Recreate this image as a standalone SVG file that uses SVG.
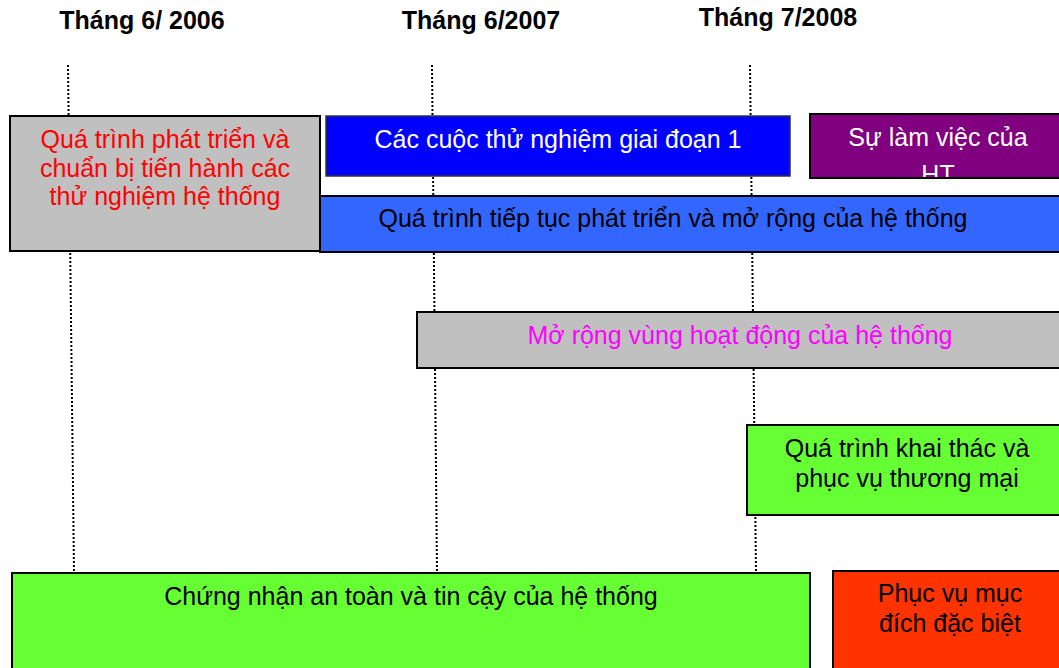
<svg xmlns="http://www.w3.org/2000/svg" width="1059" height="668" viewBox="0 0 1059 668">
<defs>
<style>
.t{font-family:"Liberation Sans",Arial,sans-serif;font-size:25px;text-anchor:middle}
.h{font-family:"Liberation Sans",Arial,sans-serif;font-size:25px;font-weight:bold;text-anchor:middle;fill:#000}
.box{stroke:#000;stroke-width:2}
.dot{stroke:#000;stroke-width:2;stroke-dasharray:2 2;fill:none}
</style>
<clipPath id="cp"><rect x="811" y="115" width="250" height="62"/></clipPath>
</defs>
<rect width="1059" height="668" fill="#fff"/>
<g id="labels">
<text class="h" x="142" y="29">Tháng 6/ 2006</text>
<text class="h" x="481" y="29">Tháng 6/2007</text>
<text class="h" x="778" y="26">Tháng 7/2008</text>
</g>
<g id="connectors">
<path class="dot" d="M68 65 L74 572"/>
<path class="dot" d="M432 65 L437 572"/>
<path class="dot" d="M750 65 L756 572"/>
</g>
<g id="n-dev">
<rect class="box" x="10" y="116" width="310" height="135" fill="#C0C0C0"/>
<text class="t" x="165" y="148" fill="#FF0000">Quá trình phát triển và</text>
<text class="t" x="165" y="177" fill="#FF0000">chuẩn bị tiến hành các</text>
<text class="t" x="165" y="205" fill="#FF0000">thử nghiệm hệ thống</text>
</g>
<g id="n-test1">
<rect x="326" y="116" width="464" height="60" fill="#0000FF" stroke="#333" stroke-width="1.5"/>
<text class="t" x="558" y="148" fill="#fff">Các cuộc thử nghiệm giai đoạn 1</text>
</g>
<g id="n-work">
<rect class="box" x="810" y="114" width="260" height="64" fill="#800080"/>
<g clip-path="url(#cp)">
<text class="t" x="938" y="146" fill="#fff">Sự làm việc của</text>
<text class="t" x="938" y="183" fill="#fff">HT</text>
</g>
</g>
<g id="n-cont">
<rect class="box" x="320" y="196" width="750" height="56" fill="#3366FF"/>
<text class="t" x="673" y="227" fill="#000">Quá trình tiếp tục phát triển và mở rộng của hệ thống</text>
</g>
<g id="n-expand">
<rect class="box" x="417" y="312" width="650" height="56" fill="#C0C0C0"/>
<text class="t" x="740" y="344" fill="#FF00FF">Mở rộng vùng hoạt động của hệ thống</text>
</g>
<g id="n-commercial">
<rect class="box" x="747" y="425" width="320" height="90" fill="#66FF33"/>
<text class="t" x="907" y="457" fill="#000">Quá trình khai thác và</text>
<text class="t" x="907" y="487" fill="#000">phục vụ thương mại</text>
</g>
<g id="n-cert">
<rect class="box" x="12" y="573" width="798" height="110" fill="#66FF33"/>
<text class="t" x="411" y="605" fill="#000">Chứng nhận an toàn và tin cậy của hệ thống</text>
</g>
<g id="n-special">
<rect class="box" x="833" y="571" width="240" height="110" fill="#FF3300"/>
<text class="t" x="950" y="602" fill="#000">Phục vụ mục</text>
<text class="t" x="950" y="632" fill="#000">đích đặc biệt</text>
</g>
</svg>
